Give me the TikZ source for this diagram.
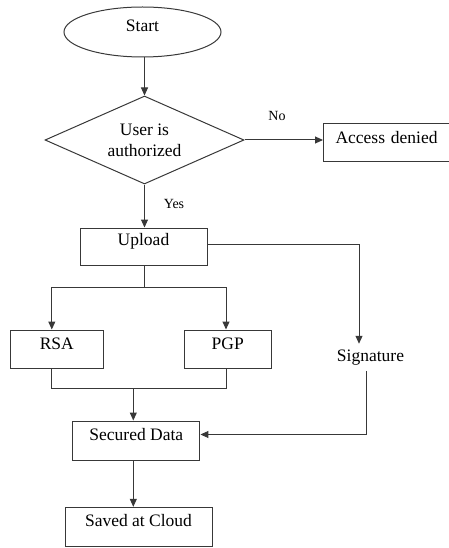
\documentclass[tikz,border=0pt]{standalone}
\usepackage{fontspec}
\setmainfont{Liberation Serif}
\usetikzlibrary{shapes.geometric,arrows.meta,calc}
\begin{document}
\begin{tikzpicture}[x=1pt,y=-1pt,
  line/.style={draw=black!78,line width=1pt},
  arr/.style={line,-{Triangle[length=8pt,width=7pt]}},
  box/.style={draw=black!78,line width=1pt,rectangle,inner xsep=0pt,inner ysep=0pt,
    font=\fontsize{17.5}{21}\selectfont},
  lbl/.style={inner sep=0pt,font=\fontsize{14}{16}\selectfont,anchor=base}]
\useasboundingbox (0,0) rectangle (449,548);
% nodes
\node[draw=black!78,line width=1pt,ellipse,inner sep=0pt,minimum width=157pt,minimum height=50pt,
  text height=12pt,text depth=12pt,font=\fontsize{17.5}{21}\selectfont] (start) at (142.5,32) {Start};
\node[draw=black!78,line width=1pt,diamond,aspect=2.26,inner sep=0pt,minimum width=199pt,minimum height=88pt,
  align=center,font=\fontsize{17.5}{21}\selectfont] (dia) at (144.5,140) {User is\\authorized};
\node[box,anchor=west,inner xsep=12pt,text width=108pt,align=left,text height=20pt,text depth=18.5pt] (denied) at (323,142.3) {Access denied};
\node[box,minimum width=127pt,text height=17.7pt,text depth=19.3pt] (upload) at (143.5,246.5) {Upload};
\node[box,minimum width=93.5pt,text height=19pt,text depth=19pt] (rsa) at (56.8,349) {RSA};
\node[box,minimum width=86.7pt,text height=19pt,text depth=19pt] (pgp) at (227.7,349) {PGP};
\node[inner sep=0pt,text height=17.3pt,text depth=9.4pt,font=\fontsize{17.5}{21}\selectfont] (sig) at (370.5,357.3) {Signature};
\node[box,minimum width=127.3pt,text height=19.7pt,text depth=19.3pt] (sec) at (136.3,440.5) {Secured Data};
\node[box,minimum width=147pt,text height=19.4pt,text depth=20pt] (cloud) at (138.5,527) {Saved at Cloud};
\node[lbl] (no) at (277,121) {No};
\node[lbl] (yes) at (174,208) {Yes};
\coordinate (split) at (144,287.3);
\coordinate (merge) at (133.3,388.3);
% connectors
\draw[arr] (start.south -| dia.north) -- (dia.north);
\draw[arr] (dia.east) -- (dia.east -| denied.west);
\draw[arr] (dia.south) -- (dia.south |- upload.north);
\draw[arr] ([yshift=2.2pt]upload.east) -| ([xshift=-11.5pt]sig.north);
\draw[line] (upload.south -| split) -- (split);
\draw[arr] (split) -| ([xshift=-5pt]rsa.north);
\draw[arr] (split) -| ([xshift=-1.7pt]pgp.north);
\draw[line] ([xshift=-5pt]rsa.south) |- (merge) -| ([xshift=-1.7pt]pgp.south);
\draw[arr] (merge) -- (merge |- sec.north);
\draw[arr] ([xshift=-4.5pt]sig.south) |- ([yshift=6pt]sec.east);
\draw[arr] ([xshift=-3pt]sec.south) -- ([xshift=-3pt]sec.south |- cloud.north);
\end{tikzpicture}
\end{document}
